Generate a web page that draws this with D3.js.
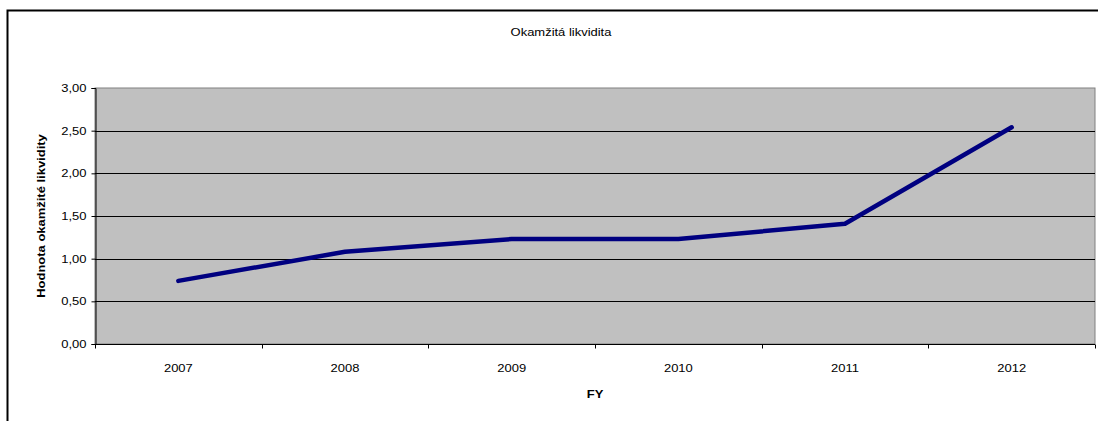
<!DOCTYPE html>
<html>
<head>
<meta charset="utf-8">
<script src="https://cdn.jsdelivr.net/npm/d3@7"></script>
<style>
  html, body { margin: 0; padding: 0; background: #fff; }
  svg { display: block; font-family: "Liberation Sans", Arial, sans-serif; }
</style>
</head>
<body>
<svg id="chart" width="1098" height="421"></svg>
<script>
// Fiscal years and the quick-ratio value for each year
const years = ["2007", "2008", "2009", "2010", "2011", "2012"];
const quickRatio = [0.74, 1.08, 1.23, 1.23, 1.41, 2.54];
const yTicks = [0, 0.5, 1, 1.5, 2, 2.5, 3];

const chartTitle = "Okamžitá likvidita";
const yTitle = "Hodnota okamžité likvidity";
const xTitle = "FY";

const svg = d3.select("#chart");
const W = 1098, H = 421;
const plot = { left: 95, top: 88, right: 1095, bottom: 344 };
const FS = 11;        // font size
const WIDEN = 1.18;   // glyphs are drawn a little wider than normal

// Places a text label at (px, py), widened along its reading direction
function label(g, px, py, txt, opts = {}) {
  const rot = opts.rotate ? ` rotate(${opts.rotate})` : "";
  return g.append("text")
    .attr("transform", `translate(${px},${py})${rot} scale(${WIDEN},1)`)
    .attr("text-anchor", opts.anchor || "middle")
    .attr("font-size", FS)
    .attr("font-weight", opts.bold ? "bold" : "normal")
    .attr("fill", "#000")
    .text(txt);
}

// Outer chart frame (extends past the right and bottom of the view)
svg.append("rect")
  .attr("x", 7.5).attr("y", 10.5)
  .attr("width", W + 10).attr("height", H + 10)
  .attr("fill", "#fff").attr("stroke", "#000").attr("stroke-width", 2);

const x = d3.scaleBand().domain(years).range([plot.left, plot.right]).padding(0);
const y = d3.scaleLinear().domain([0, 3]).range([plot.bottom, plot.top]);

// Plot area background
svg.append("rect")
  .attr("x", plot.left).attr("y", plot.top)
  .attr("width", plot.right - plot.left).attr("height", plot.bottom - plot.top)
  .attr("fill", "#c0c0c0").attr("stroke", "#808080").attr("stroke-width", 1);

// Horizontal gridlines
svg.append("g")
  .selectAll("line")
  .data(yTicks.filter(d => d > 0 && d < 3))
  .join("line")
  .attr("x1", plot.left).attr("x2", plot.right)
  .attr("y1", d => Math.round(y(d)) + 0.5).attr("y2", d => Math.round(y(d)) + 0.5)
  .attr("stroke", "#000").attr("stroke-width", 1);

const fmt = d => d3.format(".2f")(d).replace(".", ",");

// Y axis (ticks and line from d3.axisLeft, labels widened)
const yAxis = svg.append("g")
  .attr("transform", `translate(${plot.left + 0.5},0)`)
  .call(d3.axisLeft(y).tickValues(yTicks).tickFormat(fmt).tickSize(4).tickPadding(5));
yAxis.select(".domain").attr("stroke", "#000");
yAxis.selectAll(".tick line").attr("stroke", "#000");
yAxis.selectAll(".tick text").each(function () {
  const t = d3.select(this);
  t.attr("font-size", FS).attr("fill", "#000")
    .attr("font-family", "Liberation Sans, Arial, sans-serif")
    .attr("transform", `translate(-9,0) scale(${WIDEN},1)`)
    .attr("x", null);
});

// X axis: ticks at the category boundaries
const xAxisG = svg.append("g").attr("transform", `translate(0,${plot.bottom + 0.5})`);
xAxisG.append("line")
  .attr("x1", plot.left).attr("x2", plot.right)
  .attr("stroke", "#000").attr("stroke-width", 1);
const bounds = years.map(d => x(d)).concat([plot.right]);
xAxisG.selectAll("line.tk")
  .data(bounds)
  .join("line").attr("class", "tk")
  .attr("x1", d => Math.round(d) + 0.5).attr("x2", d => Math.round(d) + 0.5)
  .attr("y1", 0).attr("y2", 4)
  .attr("stroke", "#000");
years.forEach(d => label(xAxisG, x(d) + x.bandwidth() / 2, 27, d));

// Data line
svg.append("path")
  .datum(quickRatio)
  .attr("fill", "none")
  .attr("stroke", "#000080")
  .attr("stroke-width", 4.5)
  .attr("stroke-linejoin", "round")
  .attr("stroke-linecap", "round")
  .attr("d", d3.line()
    .x((d, i) => x(years[i]) + x.bandwidth() / 2)
    .y(d => y(d)));

// Titles
label(svg, 561, 36, chartTitle);
label(svg, 595, 398, xTitle, { bold: true });
label(svg, 45, (plot.top + plot.bottom) / 2, yTitle, { bold: true, rotate: -90 });
</script>
</body>
</html>
